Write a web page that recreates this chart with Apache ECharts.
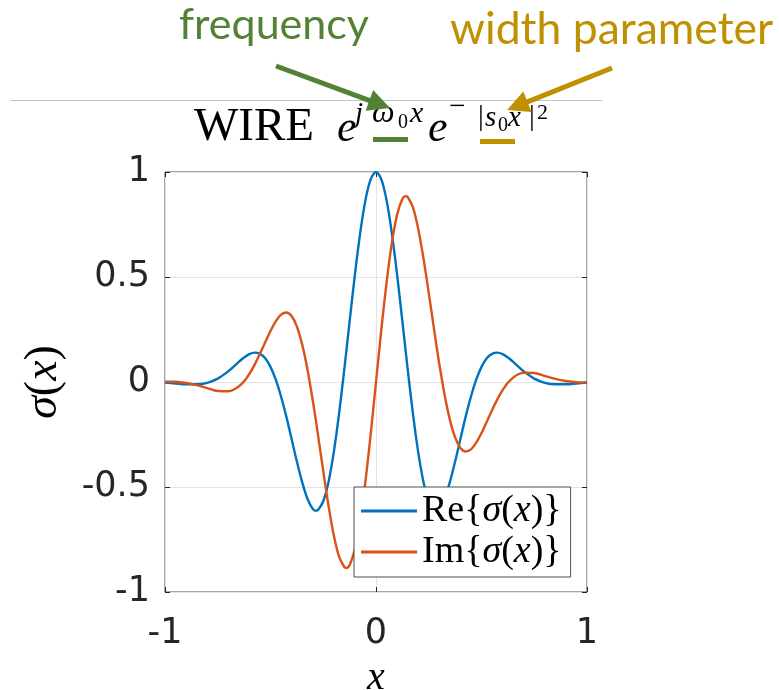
<!DOCTYPE html>
<html>
<head>
<meta charset="utf-8">
<script src="https://cdn.jsdelivr.net/npm/echarts@6/dist/echarts.min.js"></script>
<style>
  html, body { margin: 0; padding: 0; background: #ffffff; }
  #chart { width: 779px; height: 690px; }
</style>
</head>
<body>
<div id="chart"></div>
<script>
// Sample positions along x and the two components of the activation sigma(x)
const xValues = [-1, -0.95, -0.9, -0.85, -0.8, -0.75, -0.7, -0.675, -0.65, -0.625, -0.6, -0.575, -0.55, -0.525, -0.5, -0.475, -0.45, -0.425, -0.4, -0.375, -0.35, -0.325, -0.3, -0.285, -0.275, -0.25, -0.225, -0.2, -0.175, -0.15, -0.14, -0.125, -0.1, -0.075, -0.05, -0.025,
  0, 0.025, 0.05, 0.075, 0.1, 0.125, 0.14, 0.15, 0.175, 0.2, 0.225, 0.25, 0.275, 0.285, 0.3, 0.325, 0.35, 0.375, 0.4, 0.425, 0.45, 0.475, 0.5, 0.525, 0.55, 0.575, 0.6, 0.625, 0.65, 0.675, 0.7, 0.75, 0.8, 0.85, 0.9, 0.95, 1];

const reValues = [-0.003, -0.007, -0.011, -0.011, -0.004, 0.016, 0.051, 0.073, 0.096, 0.117, 0.133, 0.140, 0.134, 0.113, 0.072, 0.011, -0.069, -0.165, -0.271, -0.379, -0.477, -0.556, -0.604, -0.613, -0.610, -0.568, -0.476, -0.334, -0.151, 0.063, 0.153, 0.289, 0.511, 0.709, 0.866, 0.966,
  1.000, 0.966, 0.866, 0.709, 0.511, 0.289, 0.153, 0.063, -0.151, -0.334, -0.476, -0.568, -0.610, -0.613, -0.604, -0.556, -0.477, -0.379, -0.271, -0.165, -0.069, 0.011, 0.072, 0.113, 0.134, 0.140, 0.133, 0.117, 0.096, 0.073, 0.051, 0.016, -0.004, -0.011, -0.011, -0.007, -0.003];

const imValues = [0.002, 0.001, -0.005, -0.015, -0.029, -0.043, -0.044, -0.037, -0.021, 0.004, 0.039, 0.083, 0.134, 0.189, 0.243, 0.289, 0.321, 0.331, 0.314, 0.264, 0.179, 0.061, -0.086, -0.183, -0.252, -0.424, -0.589, -0.730, -0.832, -0.881, -0.885, -0.871, -0.797, -0.661, -0.473, -0.247,
  0.000, 0.247, 0.473, 0.661, 0.797, 0.871, 0.885, 0.881, 0.832, 0.730, 0.589, 0.424, 0.252, 0.183, 0.086, -0.061, -0.179, -0.264, -0.314, -0.331, -0.321, -0.289, -0.243, -0.189, -0.134, -0.083, -0.039, -0.004, 0.021, 0.037, 0.044, 0.043, 0.029, 0.015, 0.005, -0.001, -0.002];

const seriesNames = ['Re{σ(x)}', 'Im{σ(x)}'];
const xTickStep = 1;
const yTickStep = 0.5;

const SERIF = 'Liberation Serif';
const SANS = 'DejaVu Sans';
const LABEL_FONT = 'Lato';
const GREEN = '#548235';
const GOLD = '#BF9000';
const INK = '#262626';

// Place a text run by its left edge and its baseline
function run(text, left, baseline, size, opt) {
  opt = opt || {};
  const family = opt.family || SERIF;
  const mid = family === LABEL_FONT ? 0.387 : 0.3375;
  return {
    type: 'text', silent: true, z: 10,
    x: left, y: baseline - size * mid,
    style: {
      text: text,
      fontSize: size,
      fontFamily: family,
      fontStyle: opt.italic ? 'italic' : 'normal',
      fill: opt.color || '#000000',
      align: 'left',
      verticalAlign: 'middle'
    }
  };
}

function arrow(x1, y1, x2, y2, color) {
  const dx = x2 - x1, dy = y2 - y1;
  const len = Math.sqrt(dx * dx + dy * dy);
  const ux = dx / len, uy = dy / len;
  const headLen = 22, half = 11;
  const bx = x2 - ux * headLen, by = y2 - uy * headLen;
  return [
    { type: 'line', silent: true, z: 10,
      shape: { x1: x1, y1: y1, x2: bx + ux * 2, y2: by + uy * 2 },
      style: { stroke: color, lineWidth: 5 } },
    { type: 'polygon', silent: true, z: 10,
      shape: { points: [[x2, y2], [bx - uy * half, by + ux * half], [bx + uy * half, by - ux * half]] },
      style: { fill: color } }
  ];
}

const titleParts = [
  run('WIRE', 194, 144, 47),
  run('e', 337, 144, 44, { italic: true }),
  run('j', 355, 124, 29, { italic: true }),
  run('ω', 372, 124, 32, { italic: true }),
  run('0', 398, 129, 20),
  run('x', 410, 124, 30, { italic: true }),
  run('e', 428, 144, 44, { italic: true }),
  run('−', 449, 117, 29),
  run('|', 478, 127, 29),
  run('s', 485, 128, 29, { italic: true }),
  run('0', 498, 132, 20),
  run('x', 508, 128, 29, { italic: true }),
  run('|', 529, 127, 29),
  run('2', 537, 121, 22),
  { type: 'rect', silent: true, z: 10, shape: { x: 373, y: 137, width: 35, height: 5 }, style: { fill: GREEN } },
  { type: 'rect', silent: true, z: 10, shape: { x: 480, y: 139, width: 35, height: 5 }, style: { fill: GOLD } }
];

const noteParts = [
  { type: 'line', silent: true, z: 5, shape: { x1: 10, y1: 100.5, x2: 602, y2: 100.5 }, style: { stroke: '#c4c4c4', lineWidth: 1 } },
  run('frequency', 179, 42, 43, { family: LABEL_FONT, color: GREEN }),
  run('width parameter', 450, 47, 44.5, { family: LABEL_FONT, color: GOLD })
].concat(arrow(276, 66, 390, 108, GREEN), arrow(612, 68, 507, 110, GOLD));

const chart = echarts.init(document.getElementById('chart'), null, { renderer: 'canvas' });

const legendRich = {
  i: { fontFamily: SERIF, fontStyle: 'italic', fontSize: 38, color: '#000' }
};
const nameRich = {
  i: { fontFamily: SERIF, fontStyle: 'italic', fontSize: 46, color: '#000' }
};

const sideAxis = {
  axisLine: { show: false, onZero: false },
  axisLabel: { show: false },
  splitLine: { show: false },
  axisTick: { show: true, inside: true, length: 5, lineStyle: { color: INK } }
};

chart.setOption({
  animation: false,
  backgroundColor: '#ffffff',
  color: ['#0072BD', '#D95319'],
  grid: {
    left: 165, top: 172, width: 422, height: 420,
    containLabel: false, outerBoundsMode: 'none',
    show: true, borderColor: '#4d4d4d', borderWidth: 1, backgroundColor: 'transparent'
  },
  xAxis: [{
    type: 'value', min: -1, max: 1, interval: xTickStep, position: 'bottom',
    axisLine: { show: false, onZero: false },
    axisTick: { show: true, inside: true, length: 5, lineStyle: { color: INK } },
    axisLabel: { fontFamily: SANS, fontSize: 35, color: INK, margin: 24 },
    splitLine: { show: true, lineStyle: { color: '#e3e3e3', width: 1 } },
    name: '{i|x}', nameLocation: 'middle', nameGap: 66,
    nameTextStyle: { fontFamily: SERIF, fontSize: 40, rich: { i: { fontFamily: SERIF, fontStyle: 'italic', fontSize: 40, color: '#000' } } }
  }, Object.assign({ type: 'value', min: -1, max: 1, interval: xTickStep, position: 'top' }, sideAxis)],
  yAxis: [{
    type: 'value', min: -1, max: 1, interval: yTickStep, position: 'left',
    axisLine: { show: false, onZero: false },
    axisTick: { show: true, inside: true, length: 5, lineStyle: { color: INK } },
    axisLabel: { fontFamily: SANS, fontSize: 35, color: INK, margin: 15 },
    splitLine: { show: true, lineStyle: { color: '#e3e3e3', width: 1 } },
    name: '{i|σ}({i|x})', nameLocation: 'middle', nameRotate: 90, nameGap: 98,
    nameTextStyle: { fontFamily: SERIF, fontSize: 46, color: '#000', rich: nameRich }
  }, Object.assign({ type: 'value', min: -1, max: 1, interval: yTickStep, position: 'right' }, sideAxis)],
  legend: {
    orient: 'vertical',
    left: 354, top: 487,
    data: seriesNames,
    backgroundColor: '#ffffff',
    borderColor: '#4d4d4d', borderWidth: 1, borderRadius: 0,
    padding: [5, 9, 6, 7],
    itemGap: 3,
    itemWidth: 56, itemHeight: 3,
    icon: 'rect',
    selectedMode: false,
    textStyle: { fontFamily: SERIF, fontSize: 38, color: '#000', rich: legendRich },
    formatter: function (name) {
      return name === seriesNames[0] ? 'Re{{i|σ}({i|x})}' : 'Im{{i|σ}({i|x})}';
    }
  },
  series: [{
    name: seriesNames[0], type: 'line', xAxisIndex: 0, yAxisIndex: 0,
    data: xValues.map(function (x, i) { return [x, reValues[i]]; }),
    showSymbol: false, smooth: 0.3, lineStyle: { width: 2.4 }, z: 2
  }, {
    name: seriesNames[1], type: 'line', xAxisIndex: 0, yAxisIndex: 0,
    data: xValues.map(function (x, i) { return [x, imValues[i]]; }),
    showSymbol: false, smooth: 0.3, lineStyle: { width: 2.4 }, z: 3
  }],
  graphic: titleParts.concat(noteParts)
});
</script>
</body>
</html>
